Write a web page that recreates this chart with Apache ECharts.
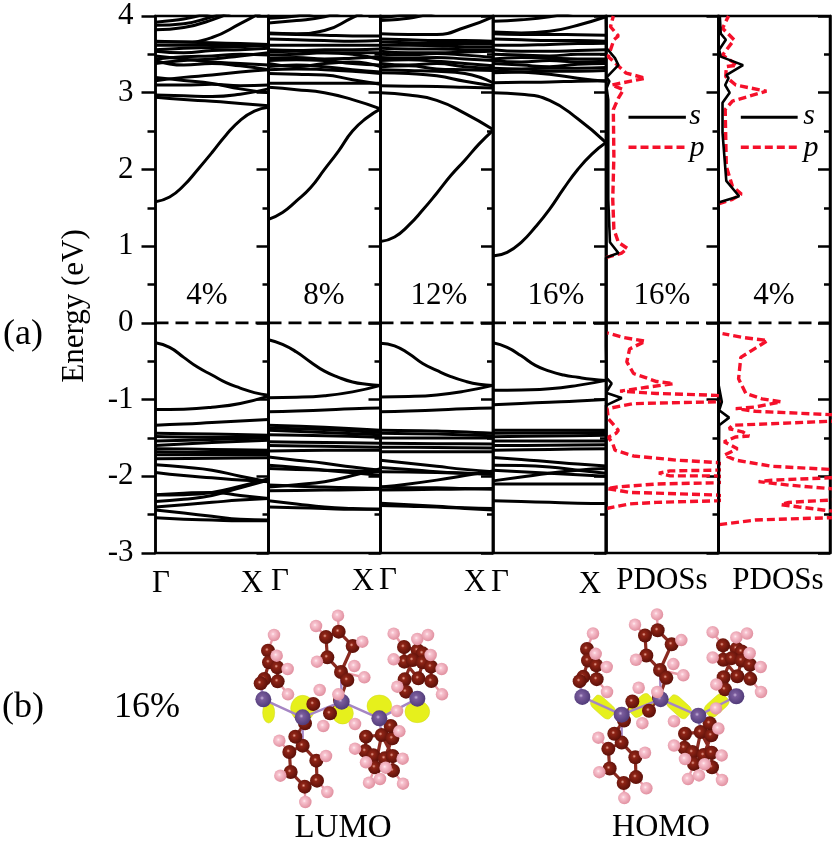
<!DOCTYPE html>
<html><head><meta charset="utf-8">
<style>html,body{margin:0;padding:0;background:#fff}#c{width:834px;height:842px}</style>
<script src="https://cdn.jsdelivr.net/npm/echarts@6/dist/echarts.min.js"></script>
</head><body><div id="c"></div>
<script>
// Band energies (eV) sampled at even steps from Gamma to X
const bands4 = [
 [1.58,1.64,1.79,2.00,2.22,2.45,2.64,2.76,2.81],
 [2.94,2.91,2.89,2.86,2.83],
 [2.97,2.96,2.95,2.98,3.05],
 [3.20,3.16,3.12,3.05,3.00],
 [3.155,3.20,3.23,3.27,3.30],
 [3.10,3.10,3.11,3.09,3.10],
 [3.42,3.36,3.38,3.35,3.30],
 [3.48,3.44,3.40,3.38,3.36],
 [3.38,3.42,3.44,3.48,3.52],
 [3.44,3.47,3.48,3.50,3.49],
 [3.54,3.52,3.55,3.56,3.58],
 [3.56,3.58,3.59,3.60,3.62],
 [3.62,3.62,3.62,3.62,3.62],
 [3.67,3.66,3.65,3.64,3.63],
 [3.66,3.66,3.72,3.90,4.10],
 [3.88,3.90,3.99,4.10],
 [3.82,3.85,3.95,4.10],
 [3.92,3.96,4.05]
];
const valence4 = [
 [-0.26,-0.32,-0.45,-0.58,-0.68,-0.78,-0.85,-0.91,-0.945],
 [-1.13,-1.125,-1.10,-1.05,-0.955],
 [-1.335,-1.32,-1.30,-1.28,-1.26],
 [-1.44,-1.45,-1.465],[-1.48,-1.49,-1.48],[-1.54,-1.52,-1.50],[-1.60,-1.56,-1.53],
 [-1.64,-1.65,-1.66],[-1.68,-1.69,-1.69],[-1.72,-1.72,-1.72],[-1.77,-1.765,-1.76],
 [-1.85,-1.88,-1.92,-2.0,-2.07],
 [-1.95,-1.99,-2.02,-2.05,-2.07],
 [-2.245,-2.24,-2.21,-2.13,-2.03],
 [-2.33,-2.30,-2.25,-2.15,-2.05],
 [-2.24,-2.22,-2.21,-2.25,-2.29],
 [-2.40,-2.37,-2.34,-2.31,-2.29],
 [-2.44,-2.48,-2.52,-2.56,-2.57],
 [-2.54,-2.56,-2.57,-2.58,-2.58]
];
const bands8 = [
 [1.35,1.44,1.59,1.76,2.00,2.24,2.50,2.67,2.79],
 [3.07,3.04,3.00,2.91,2.79],
 [3.125,3.125,3.125,3.125,3.125],
 [3.25,3.24,3.23,3.17,3.11],
 [3.30,3.31,3.30,3.28,3.25],
 [3.34,3.36,3.34,3.30,3.27],
 [3.38,3.34,3.38,3.40,3.34],
 [3.42,3.43,3.42,3.38,3.36],
 [3.45,3.46,3.44,3.45,3.47],
 [3.49,3.50,3.52,3.50,3.43],
 [3.53,3.54,3.52,3.52,3.52],
 [3.56,3.55,3.56,3.56,3.57],
 [3.62,3.62,3.62,3.62,3.62],
 [3.70,3.69,3.68,3.67,3.68],
 [3.77,3.76,3.75,3.74,3.74],
 [3.78,3.77,3.81,3.98,4.15],
 [3.91,3.94,3.99,4.10],
 [3.97,4.00,4.08]
];
const valence8 = [
 [-0.22,-0.28,-0.38,-0.51,-0.63,-0.71,-0.77,-0.80,-0.815],
 [-0.975,-0.97,-0.95,-0.90,-0.815],
 [-1.16,-1.15,-1.135,-1.12,-1.11],
 [-1.335,-1.36,-1.40],[-1.37,-1.39,-1.43],[-1.40,-1.43,-1.46],[-1.46,-1.47,-1.49],
 [-1.55,-1.56,-1.57],[-1.60,-1.61,-1.62],[-1.67,-1.66,-1.66],
 [-1.75,-1.79,-1.83,-1.88,-1.92],
 [-1.855,-1.885,-1.92,-1.955,-1.985],
 [-1.90,-1.91,-1.92,-1.93,-1.94],
 [-2.14,-2.11,-2.07,-1.99,-1.90],
 [-2.19,-2.185,-2.18,-2.175,-2.17],
 [-2.115,-2.13,-2.14,-2.15,-2.16],
 [-2.32,-2.36,-2.40,-2.42,-2.43],
 [-2.40,-2.41,-2.42,-2.43,-2.43]
];
const bands12 = [
 [1.06,1.12,1.27,1.47,1.69,1.92,2.12,2.33,2.51],
 [3.00,2.97,2.90,2.73,2.52],
 [3.09,3.085,3.08,3.07,3.06],
 [3.26,3.25,3.22,3.15,3.09],
 [3.30,3.29,3.28,3.25,3.13],
 [3.34,3.35,3.31,3.30,3.29],
 [3.38,3.36,3.38,3.34,3.32],
 [3.42,3.43,3.41,3.38,3.35],
 [3.46,3.45,3.46,3.44,3.42],
 [3.50,3.49,3.51,3.49,3.46],
 [3.54,3.52,3.52,3.53,3.54],
 [3.58,3.57,3.57,3.56,3.56],
 [3.62,3.62,3.61,3.60,3.60],
 [3.66,3.65,3.64,3.64,3.64],
 [3.70,3.69,3.68,3.68,3.67],
 [3.77,3.76,3.76,3.85,3.99],
 [3.94,3.97,4.05],
 [3.98,4.02,4.08]
];
const valence12 = [
 [-0.265,-0.30,-0.40,-0.53,-0.62,-0.70,-0.76,-0.80,-0.815],
 [-0.965,-0.96,-0.94,-0.89,-0.815],
 [-1.16,-1.15,-1.135,-1.12,-1.11],
 [-1.40,-1.41,-1.44],[-1.44,-1.45,-1.47],[-1.50,-1.50,-1.50],
 [-1.57,-1.575,-1.58],[-1.62,-1.625,-1.63],[-1.68,-1.68,-1.68],
 [-1.79,-1.83,-1.87,-1.91,-1.94],
 [-1.885,-1.91,-1.94,-1.96,-1.975],
 [-1.94,-1.945,-1.95,-1.96,-1.97],
 [-2.14,-2.10,-2.05,-1.99,-1.93],
 [-2.18,-2.175,-2.17,-2.165,-2.16],
 [-2.14,-2.15,-2.15,-2.16,-2.17],
 [-2.35,-2.37,-2.39,-2.41,-2.42],
 [-2.38,-2.39,-2.40,-2.42,-2.44]
];
const bands16 = [
 [0.87,0.92,1.05,1.25,1.48,1.75,2.00,2.20,2.35],
 [3.00,2.98,2.90,2.66,2.35],
 [3.13,3.135,3.14,3.15,3.155],
 [3.28,3.27,3.24,3.19,3.15],
 [3.26,3.27,3.28,3.28,3.29],
 [3.32,3.31,3.32,3.32,3.33],
 [3.38,3.36,3.34,3.37,3.38],
 [3.42,3.40,3.42,3.40,3.41],
 [3.44,3.46,3.45,3.44,3.44],
 [3.50,3.49,3.48,3.50,3.50],
 [3.56,3.54,3.54,3.55,3.56],
 [3.62,3.62,3.63,3.64,3.645],
 [3.70,3.69,3.68,3.68,3.67],
 [3.77,3.76,3.76,3.755,3.75],
 [3.79,3.78,3.80,3.88,3.99],
 [3.93,3.95,3.99,4.06]
];
const valence16 = [
 [-0.26,-0.32,-0.43,-0.555,-0.63,-0.68,-0.71,-0.735,-0.75],
 [-0.88,-0.875,-0.86,-0.815,-0.75],
 [-1.066,-1.05,-1.035,-1.02,-1.00],
 [-1.40,-1.40,-1.40],[-1.44,-1.435,-1.43],[-1.485,-1.475,-1.465],
 [-1.54,-1.54,-1.54],[-1.60,-1.595,-1.59],[-1.66,-1.65,-1.64],
 [-1.755,-1.78,-1.81,-1.84,-1.865],
 [-1.855,-1.86,-1.88,-1.92,-1.96],
 [-1.92,-1.94,-1.96,-1.98,-2.00],
 [-2.06,-2.01,-1.96,-1.92,-1.90],
 [-2.10,-2.10,-2.10,-2.10,-2.10],
 [-2.32,-2.33,-2.34,-2.35,-2.355]
];
// PDOS curves as [weight, energy]
const sPdos16 = [[0,-3],[0,-1.075],[0.14,-0.98],[0,-0.91],[0.05,-0.79],[0.006,-0.72],[0,-0.3],[0,0.85],[0.11,0.91],[0.035,1.05],[0.02,1.61],[0.02,2.91],[0.006,3.06],[0.03,3.15],[0.005,3.20],[0.11,3.36],[0.08,3.45],[0.006,3.58],[0,4]];
const pPdos16 = [[0.005,-2.42],[0.012,-2.40],[0.21,-2.36],[0.45,-2.34],[0.98,-2.32],[1.1,-2.30],[1.1,-2.27],[0.99,-2.245],[0.45,-2.22],[0.21,-2.21],[0.01,-2.16],[0.1,-2.14],[0.45,-2.10],[0.98,-2.085],[1.1,-2.07],[1.1,-2.02],[0.98,-1.994],[0.57,-1.994],[0.47,-1.96],[0.57,-1.93],[0.98,-1.92],[1.1,-1.91],[1.1,-1.87],[0.98,-1.82],[0.63,-1.79],[0.245,-1.735],[0.08,-1.66],[0.06,-1.575],[0.02,-1.49],[0.09,-1.44],[0.11,-1.40],[0.02,-1.25],[0.01,-1.12],[0.02,-1.097],[0.24,-1.053],[0.98,-1.03],[1.1,-1.02],[1.1,-0.98],[0.98,-0.945],[0.45,-0.92],[0.125,-0.89],[0.125,-0.88],[0.36,-0.84],[0.6,-0.793],[0.45,-0.765],[0.245,-0.66],[0.185,-0.51],[0.21,-0.34],[0.35,-0.24],[0.155,-0.19],[0.006,-0.13]];
const pPdos16Upper = [[0,0.85],[0.14,0.91],[0.19,0.97],[0.11,1.05],[0.07,1.22],[0.06,1.61],[0.07,2.17],[0.065,2.78],[0.11,2.93],[0.155,3.04],[0.05,3.10],[0.35,3.19],[0.18,3.255],[0.02,3.47],[0.07,3.69],[0.11,3.74],[0.04,3.86],[0.065,4.0]];
const sPdos4 = [[0,-3],[0.006,-1.335],[0.095,-1.235],[0.006,-1.14],[0.03,-1.03],[0,-0.8],[0,1.57],[0.185,1.65],[0.07,1.85],[0.036,2.48],[0.036,2.87],[0.10,3.0],[0.06,3.10],[0.09,3.19],[0.07,3.23],[0.22,3.36],[0.02,3.47],[0.006,3.56],[0.066,3.69],[0.02,3.77],[0.012,4]];
const pPdos4 = [[0.006,-2.63],[0.33,-2.57],[1,-2.54],[1.1,-2.535],[1.1,-2.46],[1,-2.45],[0.72,-2.40],[0.56,-2.37],[0.63,-2.34],[1,-2.31],[1.1,-2.30],[1.1,-2.17],[1,-2.16],[0.63,-2.115],[0.36,-2.07],[0.48,-2.05],[1,-2.02],[1.1,-2.015],[1.1,-1.92],[1,-1.91],[0.48,-1.87],[0.155,-1.79],[0.05,-1.725],[0.17,-1.64],[0.05,-1.55],[0.155,-1.487],[0.275,-1.474],[0.215,-1.42],[0.095,-1.38],[0.125,-1.335],[1,-1.283],[1.1,-1.28],[1.1,-1.20],[1,-1.196],[0.33,-1.153],[0.155,-1.118],[0.33,-1.097],[0.56,-1.03],[0.39,-0.99],[0.245,-0.92],[0.18,-0.73],[0.2,-0.45],[0.44,-0.23],[0.215,-0.19],[0.036,-0.14]];
const pPdos4Upper = [[0,1.55],[0.125,1.61],[0.205,1.68],[0.125,1.78],[0.07,2.04],[0.06,2.78],[0.125,2.89],[0.43,3.02],[0.155,3.10],[0.065,3.21],[0.07,3.34],[0.17,3.36],[0.036,3.49],[0.14,3.69],[0.036,3.84],[0.09,4]];
const baselineGaps = [[[0,-3],[0,-2.42],null,[0,-0.13],[0,0.85]],[[0,-3],[0,-2.63],null,[0,-0.14],[0,1.55]]];
const legendS = [2.68, 0.2, 0.71];
const legendP = [2.29, 0.2, 0.71];
const yTicks = [-3,-2,-1,0,1,2,3,4];
const panelLabels = ['4%','8%','12%','16%','16%','4%'];
const kLabels = ['Γ','X','Γ','X','Γ','X','Γ','X'];
// Atom positions of the structure (b), in drawing units
const carbon = [[114,152],[117,187],[142,202],[143,244],[103,237],[92,250],[288,111],[326,95],[368,138],[292,172],[333,216],[352,240],[330,300],[300,340],[218,437],[178,456],[182,516],[224,560],[261,542],[259,482],[196,410],[225,370],[250,312],[408,410],[406,453],[430,466],[435,502],[464,475],[488,468],[489,512],[455,405],[487,415],[482,378],[522,141],[563,151],[578,160],[523,185],[548,180],[578,187],[603,200],[565,235],[604,243],[524,238],[528,275]];
const hydrogen = [[132,105],[140,167],[173,207],[174,283],[258,78],[324,47],[397,125],[261,185],[373,198],[403,232],[269,270],[325,283],[280,378],[148,422],[288,468],[151,527],[292,576],[226,606],[375,372],[375,446],[408,487],[417,548],[450,537],[467,503],[508,394],[518,476],[519,551],[501,333],[491,101],[562,117],[594,105],[491,178],[602,165],[635,207],[636,283],[502,260]];
const metal = [[100,298],[218,352],[335,305],[448,355],[562,296]];
const ccBonds = [[114,152],[117,187],[142,202],[143,244],[103,237],[117,187],null,[288,111],[326,95],[368,138],[333,216],[292,172],[288,111],null,[333,216],[352,240],[330,300],[300,340],null,[218,437],[178,456],[182,516],[224,560],[261,542],[259,482],[218,437],[196,410],[225,370],[250,312],null,[408,410],[406,453],[435,502],[489,512],[488,468],[455,405],[408,410],null,[430,466],[464,475],[487,415],[482,378],null,[455,405],[435,502],null,[522,141],[523,185],[565,235],[604,243],[603,200],[563,151],[522,141],null,[548,180],[524,238],[528,275],null,[578,187],[565,235]];
const chBonds = [[114,152],[132,105],null,[143,244],[174,283],null,[142,202],[173,207],null,[288,111],[258,78],null,[326,95],[324,47],null,[368,138],[397,125],null,[292,172],[261,185],null,[333,216],[403,232],null,[259,482],[288,468],null,[182,516],[151,527],null,[261,542],[292,576],null,[224,560],[226,606],null,[178,456],[148,422],null,[406,453],[375,446],null,[435,502],[417,548],null,[489,512],[519,551],null,[488,468],[518,476],null,[522,141],[491,101],null,[604,243],[636,283],null,[603,200],[635,207],null,[523,185],[491,178]];
const metalBonds = [[100,298],[218,352],[335,305],[448,355],[562,296],null,[100,298],[92,250],null,[218,352],[218,437],null,[335,305],[333,216],null,[448,355],[455,405],null,[562,296],[528,275]];
const lumoLobes = [[218,325,72,78],[116,338,36,62],[338,340,64,64],[448,318,74,66],[562,335,74,66]];
const homoLobes = [[162,329,76,44,-42],[277,324,76,44,42],[390,328,76,44,-42],[503,324,76,44,42]];

const panelEdges = [155.5,268.5,380.5,493,606,718.5,830];
const gridTop = 16, gridBottom = 553;
const serif = 'Liberation Serif';
const bandSets = [bands4.concat(valence4), bands8.concat(valence8), bands12.concat(valence12), bands16.concat(valence16)];
const frameW = 2.5;

const grids=[], xAxes=[], yAxes=[], series=[];
panelEdges.slice(0,-1).forEach((l,i)=>{
  grids.push({left:l,top:gridTop,width:panelEdges[i+1]-l,height:gridBottom-gridTop,show:true,borderColor:'#000',borderWidth:frameW,backgroundColor:'transparent'});
  xAxes.push({gridIndex:i,type:'value',min:0,max:1,show:false});
  yAxes.push({gridIndex:i,type:'value',min:-3,max:4,interval:1,position:'right',
    axisLine:{show:true,onZero:false,lineStyle:{color:'#000',width:frameW}},
    axisTick:{show:true,inside:true,length:12,lineStyle:{color:'#000',width:frameW}},
    minorTick:{show:true,splitNumber:2,length:6,lineStyle:{color:'#000',width:frameW}},
    axisLabel:{show:false},splitLine:{show:false},minorSplitLine:{show:false}});
});
yAxes.push({gridIndex:0,type:'value',min:-3,max:4,interval:1,position:'left',
  axisLine:{show:true,onZero:false,lineStyle:{color:'#000',width:frameW}},
  axisTick:{show:true,inside:false,length:14,lineStyle:{color:'#000',width:frameW}},
  minorTick:{show:true,splitNumber:2,length:8,lineStyle:{color:'#000',width:frameW}},
  axisLabel:{show:true,margin:22,fontFamily:serif,fontSize:31,color:'#000',formatter:v=>yTicks.includes(v)?String(v):''},
  splitLine:{show:false},minorSplitLine:{show:false}});

bandSets.forEach((set,i)=>{
  set.forEach(b=>{
    const last=b.length-1, leaves=b[last]>4.0;   // bands leaving the window stop before X
    series.push({type:'line',xAxisIndex:i,yAxisIndex:i,smooth:b.length>3?0.5:0.3,symbol:'none',silent:true,clip:true,
      lineStyle:{color:'#000',width:3},
      data:b.map((e,j)=>[leaves?j*0.25:j/last,e])});
  });
});
const red='#f5102a', redDash=[8,4];
[[0,sPdos16,pPdos16,pPdos16Upper],[1,sPdos4,pPdos4,pPdos4Upper]].forEach(([n,s,p,pu])=>{
  const gi=4+n;
  series.push({type:'line',xAxisIndex:gi,yAxisIndex:gi,symbol:'none',silent:true,z:3,lineStyle:{color:red,width:1},data:baselineGaps[n]});
  series.push({type:'line',xAxisIndex:gi,yAxisIndex:gi,symbol:'none',clip:true,silent:true,z:3,lineStyle:{color:red,width:3.4,type:redDash},data:p});
  series.push({type:'line',xAxisIndex:gi,yAxisIndex:gi,symbol:'none',clip:true,silent:true,z:3,lineStyle:{color:red,width:3.4,type:redDash},data:pu});
  series.push({type:'line',xAxisIndex:gi,yAxisIndex:gi,symbol:'none',clip:true,silent:true,z:4,lineStyle:{color:'#000',width:2.6},data:s});
  series.push({type:'line',xAxisIndex:gi,yAxisIndex:gi,symbol:'none',silent:true,z:4,lineStyle:{color:'#000',width:3},data:[[legendS[1],legendS[0]],[legendS[2],legendS[0]]]});
  series.push({type:'line',xAxisIndex:gi,yAxisIndex:gi,symbol:'none',silent:true,z:4,lineStyle:{color:red,width:3.4,type:redDash},data:[[legendP[1],legendP[0]],[legendP[2],legendP[0]]]});
});
panelEdges.slice(0,-1).forEach((_,i)=>{
  series.push({type:'line',xAxisIndex:i,yAxisIndex:i,symbol:'none',silent:true,z:5,lineStyle:{color:'#000',width:2.8,type:[13,7]},data:[[0,0],[1,0]]});
});

function ball(c0,c1,c2){return new echarts.graphic.RadialGradient(0.42,0.42,0.6,[{offset:0,color:c0},{offset:0.22,color:c1},{offset:1,color:c2}]);}
function addMolecule(gi,yi,lobes){
  const base={type:'line',xAxisIndex:gi,yAxisIndex:yi,symbol:'none',silent:true};
  series.push(Object.assign({},base,{z:2,lineStyle:{color:'#8a2a20',width:3.2},data:ccBonds}));
  series.push(Object.assign({},base,{z:2,lineStyle:{color:'#e89aa5',width:2.4},data:chBonds}));
  series.push({type:'scatter',xAxisIndex:gi,yAxisIndex:yi,silent:true,z:3,
    symbol:lobes[0].length>4?'roundRect':'circle',
    symbolSize:(v,p)=>[lobes[p.dataIndex][2]/3,lobes[p.dataIndex][3]/3],
    symbolRotate:(v,p)=>lobes[p.dataIndex][4]||0,
    itemStyle:{color:'#e6f01c',opacity:1,borderColor:'#cfd81e',borderWidth:0.5},
    data:lobes.map(l=>[l[0],l[1]])});
  series.push(Object.assign({},base,{z:4,lineStyle:{color:'#a586c4',width:2.4},data:metalBonds}));
  const sc={type:'scatter',xAxisIndex:gi,yAxisIndex:yi,silent:true};
  series.push(Object.assign({},sc,{z:5,symbolSize:14,itemStyle:{opacity:1,color:ball('#eea898','#8e2416','#5a0f08')},data:carbon}));
  series.push(Object.assign({},sc,{z:6,symbolSize:16,itemStyle:{opacity:1,color:ball('#c8b4dc','#7a5c9c','#4f3a78')},data:metal}));
  series.push(Object.assign({},sc,{z:7,symbolSize:12.5,itemStyle:{opacity:1,color:ball('#ffeef2','#f8c4d0','#e08e9e')},data:hydrogen}));
}
[[230,600,230,210,lumoLobes],[549,599,230,207,homoLobes]].forEach(([l,t,w,h,lobes])=>{
  const gi=grids.length;
  grids.push({left:l,top:t,width:w,height:h,show:false});
  xAxes.push({gridIndex:gi,type:'value',min:0,max:690,show:false});
  yAxes.push({gridIndex:gi,type:'value',min:0,max:630,inverse:true,show:false});
  addMolecule(gi,yAxes.length-1,lobes);
});

function txt(x,y,t,size,opt){return {type:'text',x:x,y:y,z:20,style:Object.assign({text:t,fontFamily:serif,fontSize:size,fill:'#000',textAlign:'center',textVerticalAlign:'middle'},opt||{})};}
const gfx=[
 txt(207,296,panelLabels[0],31),txt(324,296,panelLabels[1],31),txt(439,296,panelLabels[2],31),txt(556,296,panelLabels[3],31),txt(662,296,panelLabels[4],31),txt(774,296,panelLabels[5],31),
 txt(161,584,kLabels[0],31),txt(252,584,kLabels[1],31),txt(280,582,kLabels[2],31),txt(363,582,kLabels[3],31),txt(388,581,kLabels[4],31),txt(475,583,kLabels[5],31),txt(500,583,kLabels[6],31),txt(590,585,kLabels[7],31),
 txt(662,581,'PDOSs',31),txt(778,581,'PDOSs',31),
 txt(695,116,'s',30,{fontStyle:'italic'}),txt(697,148,'p',30,{fontStyle:'italic'}),txt(809,116,'s',30,{fontStyle:'italic'}),txt(811,148,'p',30,{fontStyle:'italic'}),
 txt(23,335,'(a)',36),txt(23,708,'(b)',36),txt(147,708,'16%',36),txt(343,828,'LUMO',33),txt(661,828,'HOMO',32),
 Object.assign(txt(75,306,'Energy (eV)',31),{rotation:Math.PI/2})
];
const chart=echarts.init(document.getElementById('c'),null,{renderer:'canvas',width:834,height:842});
chart.setOption({animation:false,backgroundColor:'#fff',grid:grids,xAxis:xAxes,yAxis:yAxes,series:series,graphic:gfx});
</script></body></html>
